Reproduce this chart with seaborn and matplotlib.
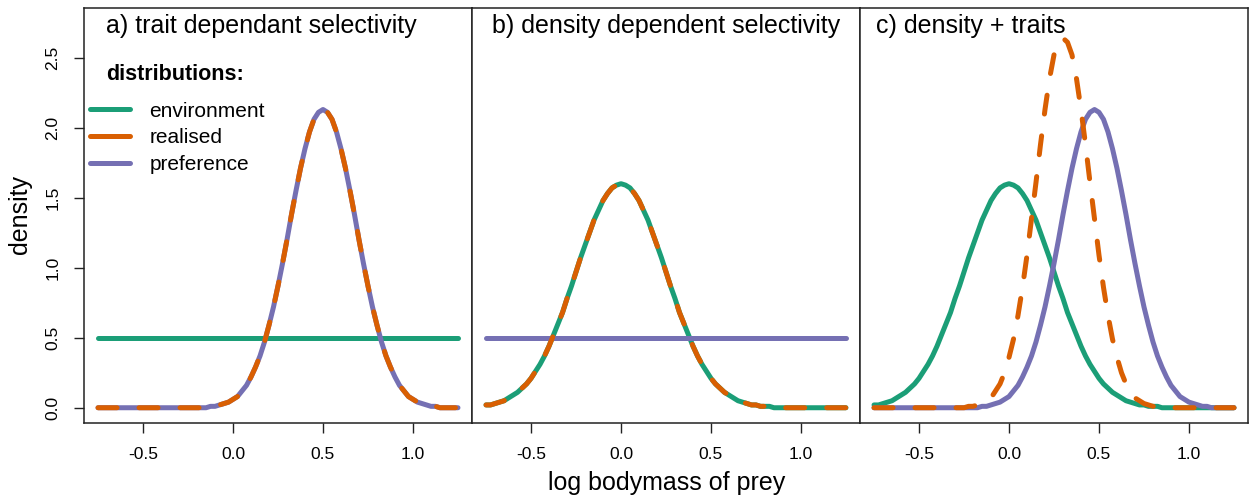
import numpy as np
import seaborn as sns
import matplotlib.pyplot as plt

# ---------------------------------------------------------------- data
x_grid = np.linspace(-0.75, 1.25, 81)   # log bodymass of prey, step 0.025

# environment distribution (mean 0)
env_curve = [
    0.02, 0.02, 0.03, 0.04, 0.05, 0.07, 0.09, 0.11, 0.14, 0.17,
    0.21, 0.26, 0.31, 0.37, 0.44, 0.52, 0.60, 0.68, 0.78, 0.87,
    0.97, 1.07, 1.16, 1.25, 1.34, 1.41, 1.48, 1.53, 1.57, 1.59,
    1.60, 1.59, 1.57, 1.53, 1.48, 1.41, 1.34, 1.25, 1.16, 1.07,
    0.97, 0.87, 0.78, 0.68, 0.60, 0.52, 0.44, 0.37, 0.31, 0.26,
    0.21, 0.17, 0.14, 0.11, 0.09, 0.07, 0.05, 0.04, 0.03, 0.02,
    0.02, 0.01, 0.01, 0.01, 0.00, 0.00, 0.00, 0.00, 0.00, 0.00,
    0.00, 0.00, 0.00, 0.00, 0.00, 0.00, 0.00, 0.00, 0.00, 0.00,
    0.00,
]

# preference, panel a
pref_a = [
    0.00, 0.00, 0.00, 0.00, 0.00, 0.00, 0.00, 0.00, 0.00, 0.00,
    0.00, 0.00, 0.00, 0.00, 0.00, 0.00, 0.00, 0.00, 0.00, 0.00,
    0.00, 0.00, 0.00, 0.00, 0.00, 0.01, 0.01, 0.02, 0.03, 0.04,
    0.06, 0.08, 0.12, 0.16, 0.22, 0.29, 0.37, 0.47, 0.59, 0.72,
    0.87, 1.03, 1.20, 1.38, 1.55, 1.71, 1.85, 1.97, 2.06, 2.11,
    2.13, 2.11, 2.06, 1.97, 1.85, 1.71, 1.55, 1.38, 1.20, 1.03,
    0.87, 0.72, 0.59, 0.47, 0.37, 0.29, 0.22, 0.16, 0.12, 0.08,
    0.06, 0.04, 0.03, 0.02, 0.01, 0.01, 0.00, 0.00, 0.00, 0.00,
    0.00,
]

# preference, panel c
pref_c = [
    0.00, 0.00, 0.00, 0.00, 0.00, 0.00, 0.00, 0.00, 0.00, 0.00,
    0.00, 0.00, 0.00, 0.00, 0.00, 0.00, 0.00, 0.00, 0.00, 0.00,
    0.00, 0.00, 0.00, 0.00, 0.01, 0.01, 0.02, 0.03, 0.04, 0.06,
    0.08, 0.12, 0.16, 0.22, 0.29, 0.37, 0.47, 0.59, 0.72, 0.87,
    1.03, 1.20, 1.38, 1.55, 1.71, 1.85, 1.97, 2.06, 2.11, 2.13,
    2.11, 2.06, 1.97, 1.85, 1.71, 1.55, 1.38, 1.20, 1.03, 0.87,
    0.72, 0.59, 0.47, 0.37, 0.29, 0.22, 0.16, 0.12, 0.08, 0.06,
    0.04, 0.03, 0.02, 0.01, 0.01, 0.00, 0.00, 0.00, 0.00, 0.00,
    0.00,
]

# realised, panel c
real_c = [
    0.00, 0.00, 0.00, 0.00, 0.00, 0.00, 0.00, 0.00, 0.00, 0.00,
    0.00, 0.00, 0.00, 0.00, 0.00, 0.00, 0.00, 0.00, 0.00, 0.00,
    0.00, 0.01, 0.01, 0.02, 0.03, 0.05, 0.07, 0.12, 0.17, 0.25,
    0.36, 0.49, 0.66, 0.86, 1.09, 1.35, 1.61, 1.88, 2.13, 2.35,
    2.52, 2.61, 2.64, 2.61, 2.52, 2.35, 2.13, 1.88, 1.61, 1.35,
    1.09, 0.86, 0.66, 0.49, 0.36, 0.25, 0.17, 0.12, 0.07, 0.05,
    0.03, 0.02, 0.01, 0.01, 0.00, 0.00, 0.00, 0.00, 0.00, 0.00,
    0.00, 0.00, 0.00, 0.00, 0.00, 0.00, 0.00, 0.00, 0.00, 0.00,
    0.00,
]

flat_level = [0.5] * len(x_grid)   # uniform distribution

real_a = pref_a
real_b = env_curve

panel_titles = ["a) trait dependant selectivity",
                "b) density dependent selectivity",
                "c) density + traits"]
panel_env = [flat_level, env_curve, env_curve]
panel_pref = [pref_a, flat_level, pref_c]
panel_real = [real_a, real_b, real_c]

legend_title = "distributions:"
legend_labels = ["environment", "realised", "preference"]
x_ticks = [-0.5, 0.0, 0.5, 1.0]
x_tick_labels = ["-0.5", "0.0", "0.5", "1.0"]
y_ticks = [0.0, 0.5, 1.0, 1.5, 2.0, 2.5]
y_tick_labels = ["0.0", "0.5", "1.0", "1.5", "2.0", "2.5"]

# ---------------------------------------------------------------- style
GREEN, ORANGE, PURPLE = "#1B9E77", "#D95F02", "#7570B3"
LW = 3.6
DASHED = (0, (3.8, 4.4))

sns.set_style("ticks")
plt.rcParams["font.family"] = ["Liberation Sans", "DejaVu Sans"]
plt.rcParams["axes.unicode_minus"] = False
plt.rcParams["text.color"] = "black"

W, H = 1250, 501
fig = plt.figure(figsize=(W / 100, H / 100), dpi=100)

lefts = [84, 472, 860]
title_x = [-0.707, -0.715, -0.737]

for i in range(3):
    ax = fig.add_axes([lefts[i] / W, 1 - 423 / H, 388 / W, 415 / H])

    series = [("environment", panel_env[i], GREEN, "-"),
              ("preference", panel_pref[i], PURPLE, "-"),
              ("realised", panel_real[i], ORANGE, DASHED)]
    for name, yvals, col, ls in series:
        sns.lineplot(x=x_grid, y=yvals, ax=ax, color=col, linewidth=LW,
                     linestyle=ls, solid_capstyle="round",
                     dash_capstyle="round", label=name, legend=False)

    ax.set_xlim(-0.828, 1.328)
    ax.set_ylim(-0.109, 2.855)
    ax.set_xticks(x_ticks)
    ax.set_xticklabels(x_tick_labels)
    if i == 0:
        ax.set_yticks(y_ticks)
        ax.set_yticklabels(y_tick_labels, rotation=90, va="center")
    else:
        ax.set_yticks([])
    ax.tick_params(direction="out", length=7.5, width=1.0, color="#222222",
                   labelsize=12.5, pad=9.5, labelcolor="black")
    for sp in ax.spines.values():
        sp.set_visible(True)
        sp.set_color("#222222")
        sp.set_linewidth(1.1)

    ax.text(title_x[i], 0.940, panel_titles[i],
            transform=ax.get_xaxis_transform(),
            fontsize=18, ha="left", va="baseline", color="black")

    if i == 0:
        # legend title drawn on its own so the gap below it matches
        ax.text(0.2345, 0.8386, legend_title, transform=ax.transAxes,
                fontsize=15.5, fontweight="bold", ha="center", va="center",
                color="black")
        handles = {l.get_label(): l for l in ax.get_lines()}
        leg = ax.legend([handles[k] for k in legend_labels], legend_labels,
                        loc="upper left", bbox_to_anchor=(0.0155, 0.7746),
                        frameon=False, fontsize=15, labelcolor="black",
                        handlelength=1.9, handletextpad=0.95,
                        labelspacing=0.37, borderpad=0, borderaxespad=0)
        leg.get_lines()[1].set_linestyle("-")

fig.text(20 / W, 1 - 215 / H, "density", rotation=90, fontsize=18,
         ha="center", va="center", color="black")
fig.text(667 / W, 1 - 483 / H, "log bodymass of prey", fontsize=18,
         ha="center", va="center", color="black")

fig.savefig("out.png", dpi=100)
